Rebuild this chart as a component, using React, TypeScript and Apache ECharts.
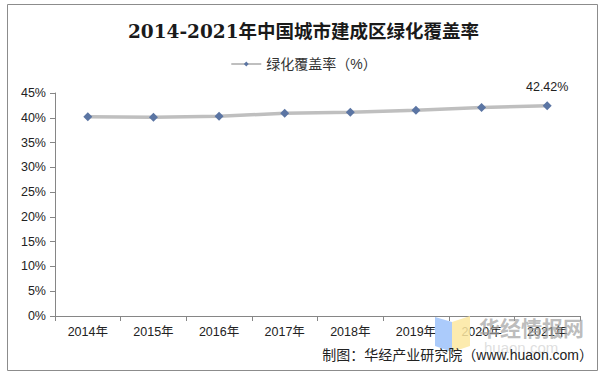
import React, { useEffect, useRef } from "react";
import * as echarts from "echarts";

const categories = ["2014年", "2015年", "2016年", "2017年", "2018年", "2019年", "2020年", "2021年"];
const coverage = [40.22, 40.12, 40.3, 40.91, 41.11, 41.51, 42.06, 42.42];
const seriesName = "绿化覆盖率（%）";
const titleText = "2014-2021年中国城市建成区绿化覆盖率";
const sourceText = "制图：华经产业研究院（www.huaon.com）";
const watermarkText = "华经情报网";
const watermarkSub = "huaon.com";

export default function App() {
  const ref = useRef<HTMLDivElement>(null);
  useEffect(() => {
    document.body.style.margin = "0";
    const chart = echarts.init(ref.current!, null, { renderer: "svg" });
    const last = coverage.length - 1;
    chart.setOption({
      animation: false,
      backgroundColor: "#ffffff",
      title: {
        text: titleText,
        left: "center",
        top: 17,
        textStyle: {
          fontFamily: "'DejaVu Serif', 'Noto Sans CJK SC', serif",
          fontSize: 18.5,
          fontWeight: "bold",
          color: "#1a1a1a",
        },
      },
      legend: {
        top: 52,
        left: "center",
        itemWidth: 30,
        itemHeight: 6,
        itemGap: 4,
        data: [{ name: seriesName }],
        textStyle: { fontFamily: "'Liberation Sans', 'Noto Sans CJK SC', sans-serif", fontSize: 14, color: "#333" },
      },
      grid: { left: 55, right: 27, top: 93, bottom: 62 },
      xAxis: {
        type: "category",
        data: categories,
        boundaryGap: true,
        axisLine: { lineStyle: { color: "#868686", width: 1 } },
        axisTick: { show: true, alignWithLabel: false, length: 5, lineStyle: { color: "#868686" } },
        axisLabel: { color: "#222", fontSize: 12.5, margin: 10, fontFamily: "'Liberation Sans', 'Noto Sans CJK SC', sans-serif" },
      },
      yAxis: {
        type: "value",
        min: 0,
        max: 45,
        interval: 5,
        axisLine: { show: true, lineStyle: { color: "#868686", width: 1 } },
        axisTick: { show: true, length: 5, lineStyle: { color: "#868686" } },
        splitLine: { show: false },
        axisLabel: { color: "#222", fontSize: 12.5, margin: 9, formatter: "{value}%", fontFamily: "'Liberation Sans', sans-serif" },
      },
      series: [
        {
          name: seriesName,
          type: "line",
          data: coverage.map((v, i) =>
            i === last
              ? { value: v, label: { show: true, position: "top", distance: 8, formatter: (p: any) => p.value.toFixed(2) + "%" } }
              : v
          ),
          symbol: "diamond",
          symbolSize: 9,
          lineStyle: { color: "#BFBFBF", width: 3.5 },
          itemStyle: { color: "#5B75A3" },
          label: { color: "#222", fontSize: 12.5, fontFamily: "'Liberation Sans', sans-serif" },
          z: 3,
        },
      ],
      graphic: [
        {
          type: "rect",
          shape: { x: 7.5, y: 4.5, width: 590, height: 366 },
          style: { fill: "none", stroke: "#8c8c8c", lineWidth: 1 },
          silent: true,
        },
        {
          type: "polygon",
          shape: { points: [[435, 317], [452, 322], [452, 352], [435, 346]] },
          style: { fill: "rgba(150,190,250,0.8)" },
          silent: true,
          z: 10,
        },
        {
          type: "polygon",
          shape: { points: [[452, 322], [470, 316], [470, 346], [452, 352]] },
          style: { fill: "rgba(252,232,160,0.85)" },
          silent: true,
          z: 10,
        },
        {
          type: "text",
          x: 479,
          y: 316,
          style: {
            text: watermarkText,
            fontSize: 21,
            fontWeight: "bold",
            fill: "rgba(160,160,160,0.7)",
            fontFamily: "'Noto Sans CJK SC', sans-serif",
          },
          silent: true,
          z: 10,
        },
        {
          type: "text",
          x: 484,
          y: 340,
          style: {
            text: watermarkSub,
            fontSize: 15,
            fill: "rgba(190,190,190,0.5)",
            fontFamily: "'Liberation Sans', sans-serif",
          },
          silent: true,
          z: 10,
        },
        {
          type: "text",
          right: 14,
          top: 348,
          style: {
            text: sourceText,
            fontSize: 14,
            fill: "#222",
            fontFamily: "'Liberation Sans', 'Noto Sans CJK SC', sans-serif",
          },
          z: 11,
        },
      ],
    });
    return () => chart.dispose();
  }, []);
  return <div ref={ref} style={{ width: 607, height: 378 }} />;
}
